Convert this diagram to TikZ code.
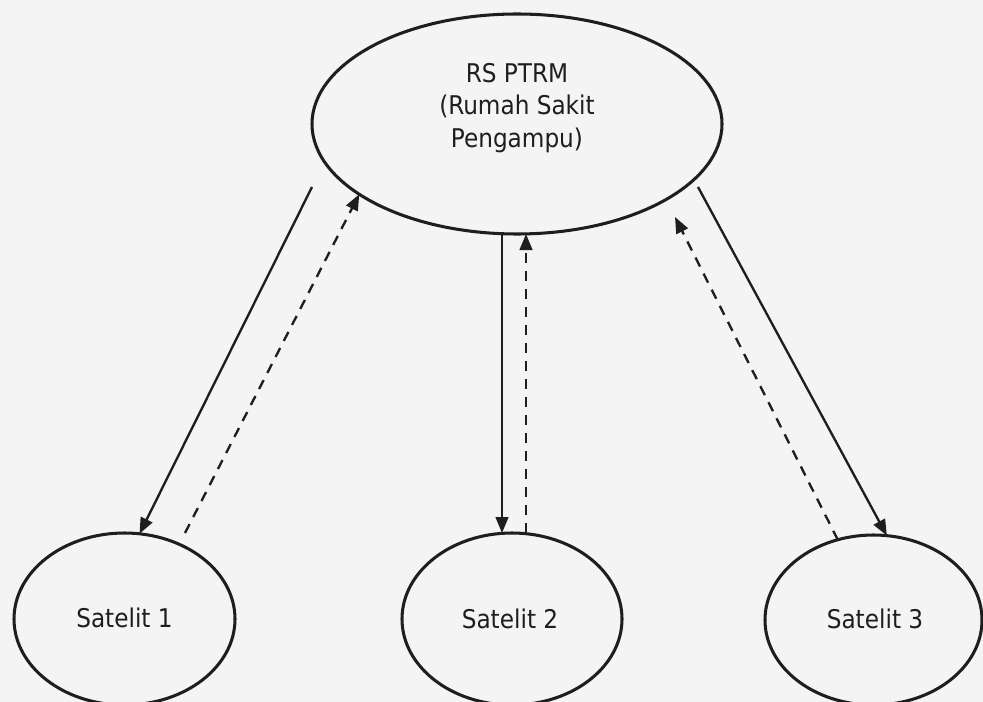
\documentclass[tikz,border=0pt]{standalone}
\usepackage{fontspec}
\setmainfont{DejaVu Sans Condensed}
\usetikzlibrary{shapes.geometric,arrows.meta}
\definecolor{ink}{HTML}{1E1E1E}
\definecolor{bgc}{HTML}{F4F4F4}
\begin{document}
\begin{tikzpicture}[x=0.3mm,y=-0.3mm,
  oval/.style={draw=ink, line width=2.6pt, ellipse, inner sep=0pt, outer sep=0pt},
  lbl/.style={font=\fontsize{22}{28}\selectfont, text=ink, inner sep=0pt},
  flow/.style={draw=ink, line width=2pt, -{Triangle[length=4.8mm,width=3.8mm]}},
  back/.style={flow, dash pattern=on 3mm off 2.4mm}]
\fill[bgc] (0,0) rectangle (983,702);
\useasboundingbox (0,0) rectangle (983,702);
\node[oval, minimum width=123mm, minimum height=66mm] (top) at (517,124) {};
\node[oval, minimum width=66.3mm, minimum height=51.6mm] (s1) at (124.5,619) {};
\node[oval, minimum width=66mm, minimum height=51.6mm] (s2) at (512,619) {};
\node[oval, minimum width=65.1mm, minimum height=51mm] (s3) at (873.5,620) {};
\node[lbl, align=center] (toptext) at (517,108) {RS PTRM\\(Rumah Sakit\\Pengampu)};
\node[lbl, anchor=base] (t1) at (124.5,627) {Satelit 1};
\node[lbl, anchor=base] (t2) at (510,628) {Satelit 2};
\node[lbl, anchor=base] (t3) at (875,628) {Satelit 3};
\coordinate (a1) at (312,187);
\coordinate (b1) at (185,533);
\coordinate (a3) at (698,187);
\coordinate (b3) at (675,217);
\coordinate (v1) at (502,0);
\coordinate (v2) at (526,0);
\draw[flow] (a1) -- (s1.80);
\draw[back] (b1) -- (top.204);
\draw[flow] (top.south -| v1) -- (s2.north -| v1);
\draw[back] (s2.north -| v2) -- (top.south -| v2);
\draw[flow] (a3) -- (s3.81);
\draw[back] (s3.114) -- (b3);
\end{tikzpicture}
\end{document}
